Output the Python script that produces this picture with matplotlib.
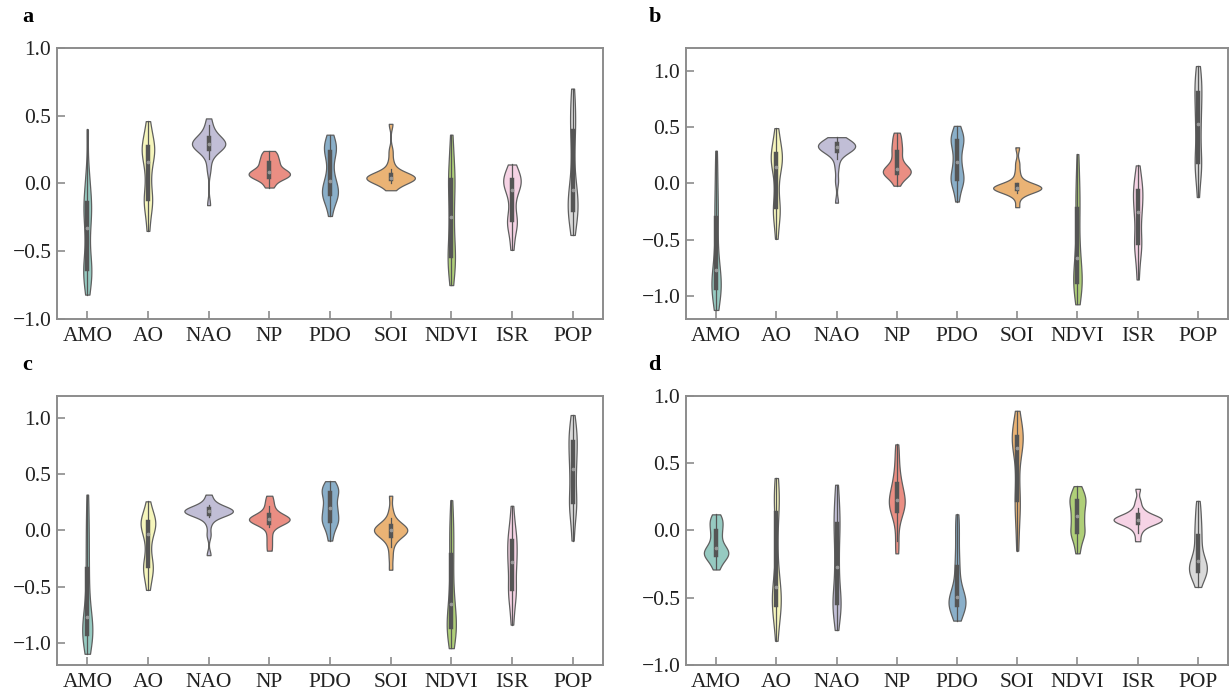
import numpy as np
import pandas as pd
import matplotlib
matplotlib.use("Agg")
import matplotlib.pyplot as plt
import seaborn as sns

# categories shared by every panel
names = ["AMO", "AO", "NAO", "NP", "PDO", "SOI", "NDVI", "ISR", "POP"]

# sample values (one list per category)
panel_a = [
    [-0.82, -0.74, -0.70, -0.67, -0.65, -0.62, -0.60, -0.55, -0.45, -0.36, -0.30, -0.25, -0.20, -0.17, -0.15, -0.12, -0.05, 0.02, 0.10, 0.40],
    [-0.35, -0.25, -0.18, -0.14, -0.12, -0.11, -0.05, 0.02, 0.08, 0.14, 0.18, 0.21, 0.23, 0.25, 0.27, 0.28, 0.31, 0.35, 0.40, 0.46],
    [-0.16, 0.10, 0.18, 0.23, 0.25, 0.26, 0.27, 0.28, 0.28, 0.29, 0.29, 0.30, 0.31, 0.32, 0.33, 0.34, 0.36, 0.39, 0.43, 0.48],
    [-0.03, 0.00, 0.03, 0.04, 0.05, 0.05, 0.06, 0.07, 0.08, 0.08, 0.09, 0.10, 0.11, 0.13, 0.15, 0.16, 0.18, 0.20, 0.22, 0.24],
    [-0.24, -0.16, -0.12, -0.10, -0.08, -0.08, -0.06, -0.04, -0.01, 0.01, 0.03, 0.08, 0.14, 0.20, 0.23, 0.25, 0.27, 0.29, 0.32, 0.36],
    [-0.05, -0.02, 0.00, 0.02, 0.03, 0.035, 0.04, 0.04, 0.04, 0.04, 0.045, 0.045, 0.05, 0.05, 0.06, 0.08, 0.11, 0.16, 0.24, 0.44],
    [-0.75, -0.68, -0.62, -0.58, -0.55, -0.53, -0.48, -0.42, -0.35, -0.28, -0.22, -0.15, -0.08, -0.02, 0.02, 0.05, 0.10, 0.18, 0.25, 0.36],
    [-0.49, -0.40, -0.34, -0.30, -0.28, -0.27, -0.22, -0.16, -0.10, -0.06, -0.03, -0.01, 0.00, 0.01, 0.02, 0.04, 0.06, 0.08, 0.11, 0.14],
    [-0.38, -0.30, -0.26, -0.22, -0.20, -0.19, -0.15, -0.12, -0.09, -0.06, -0.04, 0.05, 0.15, 0.28, 0.38, 0.42, 0.48, 0.55, 0.62, 0.70],
]
panel_b = [
    [-1.12, -1.02, -0.98, -0.95, -0.93, -0.92, -0.90, -0.87, -0.83, -0.79, -0.75, -0.68, -0.58, -0.45, -0.32, -0.25, -0.15, -0.02, 0.12, 0.29],
    [-0.49, -0.38, -0.30, -0.25, -0.22, -0.21, -0.12, -0.02, 0.06, 0.13, 0.17, 0.19, 0.21, 0.23, 0.25, 0.28, 0.32, 0.36, 0.42, 0.49],
    [-0.17, 0.02, 0.14, 0.22, 0.27, 0.29, 0.30, 0.31, 0.31, 0.32, 0.32, 0.33, 0.33, 0.34, 0.35, 0.36, 0.37, 0.38, 0.39, 0.41],
    [-0.02, 0.03, 0.06, 0.08, 0.09, 0.09, 0.10, 0.11, 0.12, 0.12, 0.14, 0.16, 0.19, 0.23, 0.27, 0.30, 0.33, 0.37, 0.41, 0.45],
    [-0.16, -0.08, -0.02, 0.01, 0.03, 0.04, 0.06, 0.09, 0.13, 0.17, 0.21, 0.26, 0.31, 0.35, 0.37, 0.39, 0.41, 0.43, 0.46, 0.51],
    [-0.21, -0.12, -0.08, -0.06, -0.05, -0.05, -0.045, -0.04, -0.04, -0.04, -0.04, -0.035, -0.03, -0.03, -0.02, 0.00, 0.04, 0.10, 0.18, 0.32],
    [-1.07, -0.98, -0.94, -0.91, -0.88, -0.87, -0.84, -0.80, -0.74, -0.68, -0.64, -0.56, -0.46, -0.35, -0.24, -0.18, -0.10, 0.00, 0.10, 0.26],
    [-0.85, -0.72, -0.63, -0.57, -0.54, -0.52, -0.46, -0.39, -0.32, -0.27, -0.23, -0.19, -0.15, -0.11, -0.07, -0.05, -0.02, 0.03, 0.09, 0.16],
    [-0.12, 0.02, 0.10, 0.15, 0.17, 0.20, 0.27, 0.35, 0.43, 0.50, 0.56, 0.62, 0.68, 0.74, 0.79, 0.83, 0.88, 0.93, 0.98, 1.04],
]
panel_c = [
    [-1.10, -1.01, -0.97, -0.95, -0.93, -0.92, -0.90, -0.87, -0.83, -0.79, -0.75, -0.69, -0.60, -0.48, -0.37, -0.25, -0.12, 0.00, 0.14, 0.32],
    [-0.53, -0.45, -0.39, -0.35, -0.33, -0.31, -0.27, -0.20, -0.12, -0.05, -0.01, 0.02, 0.04, 0.06, 0.07, 0.09, 0.11, 0.14, 0.18, 0.26],
    [-0.22, -0.04, 0.06, 0.12, 0.14, 0.15, 0.16, 0.16, 0.17, 0.17, 0.17, 0.17, 0.18, 0.18, 0.19, 0.20, 0.21, 0.23, 0.27, 0.32],
    [-0.18, -0.11, -0.04, 0.03, 0.06, 0.07, 0.08, 0.09, 0.09, 0.10, 0.10, 0.11, 0.11, 0.12, 0.13, 0.15, 0.18, 0.22, 0.26, 0.31],
    [-0.09, -0.02, 0.03, 0.06, 0.08, 0.09, 0.11, 0.14, 0.17, 0.19, 0.21, 0.24, 0.28, 0.31, 0.33, 0.35, 0.37, 0.39, 0.41, 0.44],
    [-0.35, -0.24, -0.15, -0.09, -0.06, -0.04, -0.03, -0.02, -0.01, 0.00, 0.00, 0.01, 0.02, 0.03, 0.04, 0.05, 0.07, 0.11, 0.18, 0.31],
    [-1.05, -0.97, -0.93, -0.90, -0.87, -0.86, -0.83, -0.79, -0.73, -0.68, -0.64, -0.56, -0.46, -0.35, -0.24, -0.16, -0.06, 0.03, 0.11, 0.27],
    [-0.84, -0.72, -0.64, -0.58, -0.54, -0.52, -0.47, -0.40, -0.34, -0.29, -0.27, -0.23, -0.18, -0.13, -0.10, -0.07, -0.03, 0.03, 0.10, 0.22],
    [-0.09, 0.06, 0.14, 0.20, 0.24, 0.26, 0.32, 0.39, 0.46, 0.52, 0.58, 0.63, 0.68, 0.73, 0.78, 0.81, 0.86, 0.90, 0.95, 1.03],
]
panel_d = [
    [-0.29, -0.25, -0.22, -0.20, -0.19, -0.18, -0.17, -0.16, -0.15, -0.14, -0.12, -0.10, -0.07, -0.03, -0.01, 0.02, 0.05, 0.07, 0.09, 0.12],
    [-0.82, -0.68, -0.62, -0.58, -0.56, -0.55, -0.52, -0.49, -0.46, -0.43, -0.41, -0.33, -0.22, -0.05, 0.12, 0.17, 0.22, 0.27, 0.32, 0.39],
    [-0.74, -0.63, -0.59, -0.57, -0.55, -0.54, -0.51, -0.46, -0.38, -0.30, -0.24, -0.16, -0.08, -0.01, 0.04, 0.07, 0.12, 0.19, 0.26, 0.34],
    [-0.17, -0.08, 0.03, 0.10, 0.14, 0.15, 0.17, 0.19, 0.21, 0.22, 0.24, 0.26, 0.28, 0.31, 0.34, 0.37, 0.42, 0.48, 0.56, 0.64],
    [-0.67, -0.62, -0.59, -0.57, -0.56, -0.55, -0.54, -0.53, -0.51, -0.50, -0.49, -0.46, -0.42, -0.36, -0.29, -0.23, -0.15, -0.05, 0.03, 0.12],
    [-0.15, -0.02, 0.08, 0.16, 0.20, 0.24, 0.32, 0.42, 0.52, 0.59, 0.63, 0.65, 0.67, 0.68, 0.69, 0.72, 0.75, 0.78, 0.83, 0.89],
    [-0.17, -0.11, -0.06, -0.03, -0.02, -0.01, 0.02, 0.05, 0.08, 0.10, 0.12, 0.15, 0.18, 0.20, 0.22, 0.23, 0.25, 0.27, 0.30, 0.33],
    [-0.08, -0.02, 0.02, 0.04, 0.05, 0.06, 0.07, 0.07, 0.08, 0.08, 0.08, 0.09, 0.09, 0.10, 0.11, 0.12, 0.14, 0.17, 0.22, 0.31],
    [-0.42, -0.37, -0.34, -0.32, -0.31, -0.30, -0.28, -0.27, -0.25, -0.24, -0.22, -0.19, -0.15, -0.10, -0.05, -0.01, 0.04, 0.09, 0.15, 0.22],
]

panels = [("a", panel_a), ("b", panel_b), ("c", panel_c), ("d", panel_d)]

# y range per panel
ylims = {"a": (-1.0, 1.0), "b": (-1.2, 1.2), "c": (-1.2, 1.2), "d": (-1.0, 1.0)}

plt.rcParams["font.family"] = ["Liberation Serif", "DejaVu Serif"]
plt.rcParams["font.size"] = 15.5

fig = plt.figure(figsize=(12.3, 6.98), dpi=100)

# axes boxes in figure fractions [left, bottom, width, height]
boxes = {
    "a": [0.0463, 0.543, 0.4439, 0.3883],
    "b": [0.5577, 0.543, 0.4407, 0.3883],
    "c": [0.0463, 0.0473, 0.4439, 0.3854],
    "d": [0.5577, 0.0473, 0.4407, 0.3854],
}

for tag, vals in panels:
    rows = []
    for name, v in zip(names, vals):
        for x in v:
            rows.append((name, x))
    df = pd.DataFrame(rows, columns=["var", "r"])

    ax = fig.add_axes(boxes[tag])
    sns.violinplot(data=df, x="var", y="r", hue="var", order=names,
                   hue_order=names, palette="Set3", cut=0, inner="box",
                   density_norm="area", common_norm=True, bw_adjust=0.65,
                   linewidth=0.9, linecolor="#5f5f5f", legend=False,
                   inner_kws=dict(box_width=3.2, whis_width=0.9,
                                  marker="o", markersize=2.0,
                                  color="#555555"),
                   ax=ax)
    # median dots: light grey instead of white
    for ln in ax.lines:
        if ln.get_marker() == "o":
            ln.set_markerfacecolor("#9a9a9a")
            ln.set_markeredgecolor("#9a9a9a")

    ax.set_xlim(-0.5, 8.5)
    ax.set_ylim(*ylims[tag])
    ax.set_yticks([-1.0, -0.5, 0.0, 0.5, 1.0])
    ax.set_xlabel("")
    ax.set_ylabel("")
    for s in ax.spines.values():
        s.set_color("#8c8c8c")
        s.set_linewidth(1.4)
    ax.tick_params(direction="in", length=6, width=1.2, color="#8c8c8c",
                   labelcolor="#222222", labelsize=15.5)
    ax.tick_params(axis="x", pad=6)
    ax.tick_params(axis="y", pad=4)

    y0 = boxes[tag][1] + boxes[tag][3]
    lx = 0.018 if tag in ("a", "c") else 0.527
    fig.text(lx, y0 + 0.045, tag, fontsize=16, fontweight="bold",
             ha="left", va="center")

fig.savefig("out.png", dpi=100)
